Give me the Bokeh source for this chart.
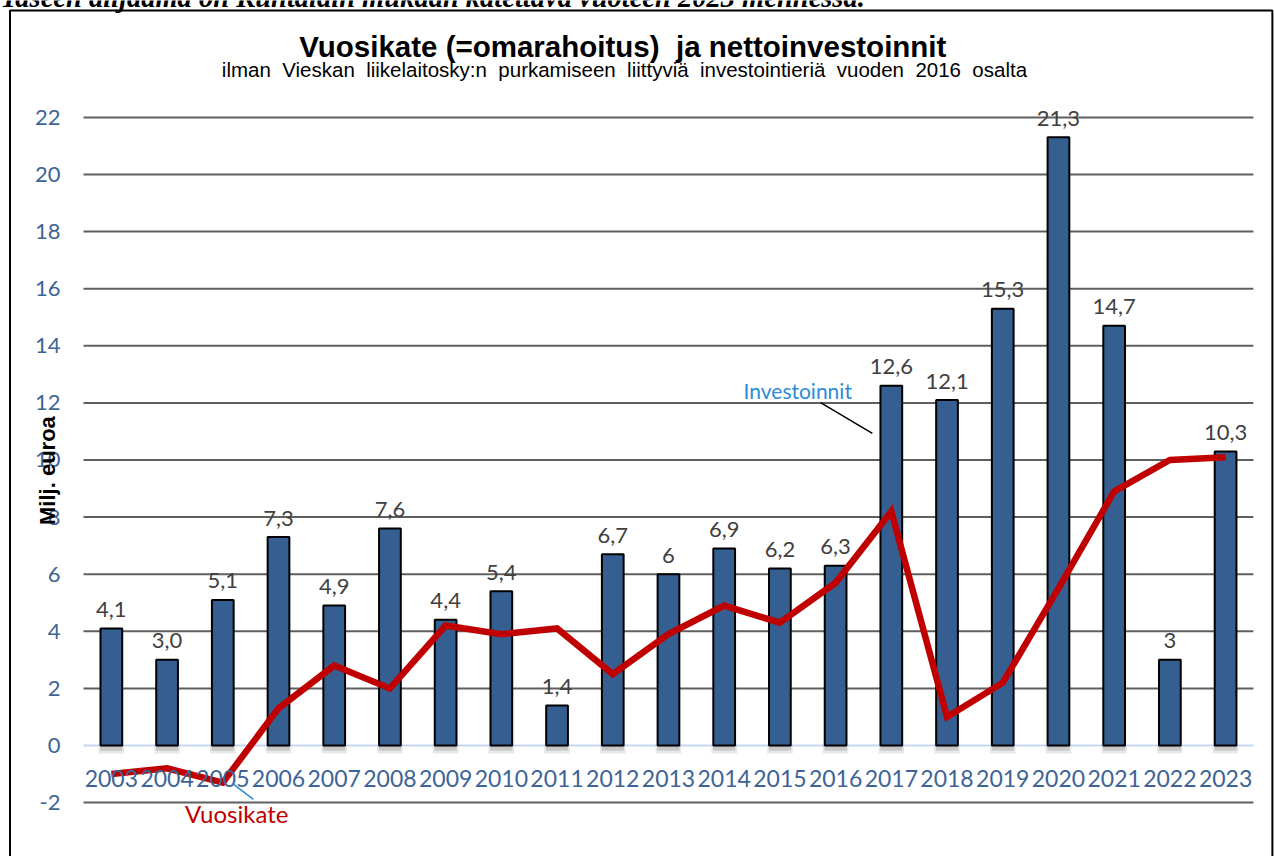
from bokeh.plotting import figure
from bokeh.models import Range1d, ColumnDataSource
from bokeh.core.properties import value
from bokeh.embed import file_html
from bokeh.resources import INLINE

years = ["2003", "2004", "2005", "2006", "2007", "2008", "2009", "2010", "2011", "2012",
         "2013", "2014", "2015", "2016", "2017", "2018", "2019", "2020", "2021", "2022", "2023"]
investoinnit = [4.1, 3.0, 5.1, 7.3, 4.9, 7.6, 4.4, 5.4, 1.4, 6.7, 6.0, 6.9, 6.2, 6.3,
                12.6, 12.1, 15.3, 21.3, 14.7, 3.0, 10.3]
inv_labels = ["4,1", "3,0", "5,1", "7,3", "4,9", "7,6", "4,4", "5,4", "1,4", "6,7", "6",
              "6,9", "6,2", "6,3", "12,6", "12,1", "15,3", "21,3", "14,7", "3", "10,3"]
vuosikate = [-1.0, -0.8, -1.3, 1.3, 2.8, 2.0, 4.2, 3.9, 4.1, 2.5, 3.9, 4.9, 4.3, 5.7,
             8.2, 1.0, 2.2, 5.5, 8.9, 10.0, 10.1]
y_ticks = [-2, 0, 2, 4, 6, 8, 10, 12, 14, 16, 18, 20, 22]
grid_ticks = [-2, 2, 4, 6, 8, 10, 12, 14, 16, 18, 20, 22]
y_tick_labels = [str(t) for t in y_ticks]

SP = " \u00a0"  # wide word gap as in the source
title_text = "Vuosikate (=omarahoitus)" + SP + "ja nettoinvestoinnit"
subtitle_text = SP.join(["ilman", "Vieskan", "liikelaitosky:n", "purkamiseen", "liittyviä",
                         "investointieriä", "vuoden", "2016", "osalta"])
top_text = "Taseen alijäämä on Kuntalain mukaan katettava vuoteen 2023 mennessä."
y_title = "Milj. euroa"

n = len(years)
idx = list(range(n))
src = ColumnDataSource(dict(x=idx, year=years, inv=investoinnit, lab=inv_labels,
                            vk=vuosikate, zero=[0] * n))
tick_src = ColumnDataSource(dict(y=y_ticks, lab=y_tick_labels, x=[-0.5] * len(y_ticks)))
grid_src = ColumnDataSource(dict(y=grid_ticks, x0=[-0.5] * len(grid_ticks),
                                 x1=[n - 0.5] * len(grid_ticks)))

# one category = 55.71 px, one y unit = 28.55 px; frame covers whole canvas
p = figure(width=1274, height=856, x_range=Range1d(-1.99, 20.878), y_range=Range1d(-3.888, 26.094),
           output_backend="svg", toolbar_location=None, x_axis_location=None,
           y_axis_location=None, min_border=0)
p.outline_line_color = None
p.background_fill_color = "white"
p.border_fill_color = "white"
p.grid.visible = False

# gridlines
p.segment(x0="x0", y0="y", x1="x1", y1="y", source=grid_src, line_color="#5f5f5f", line_width=2)
# zero line
p.segment(x0=-0.5, y0=0, x1=n - 0.5, y1=0, line_color="#c6d9f1", line_width=2)

# y tick labels
p.text(x="x", y="y", text="lab", source=tick_src, text_font=value("Lato"),
       text_font_size="22px", text_color="#3d6496", text_align="right",
       text_baseline="middle", x_offset=-23)

# bar shadows
p.vbar(x="x", top="zero", bottom=-0.28, width=0.46, source=src, fill_color="#7f7f7f",
       fill_alpha=0.18, line_color=None)
p.vbar(x="x", top="zero", bottom=-0.18, width=0.40, source=src, fill_color="#7f7f7f",
       fill_alpha=0.3, line_color=None)

# bars
p.vbar(x="x", top="inv", width=0.39, source=src, fill_color="#365f91",
       line_color="black", line_width=2)

# line
p.line(x="x", y="vk", source=src, line_color="#c00000", line_width=6.5, line_join="miter")

# bar labels
p.text(x="x", y="inv", text="lab", source=src, text_font=value("Lato"),
       text_font_size="22px", text_color="#404040", text_align="center",
       text_baseline="middle", y_offset=-19)

# year labels
p.text(x="x", y="zero", text="year", source=src, text_font=value("Lato"),
       text_font_size="23px", text_color="#3d6496", text_align="center",
       text_baseline="middle", y_offset=33)

# annotations
p.text(x=[12.32], y=[12.42], text=["Investoinnit"], text_font=value("Lato"),
       text_font_size="21px", text_color="#2e8ad8", text_align="center", text_baseline="middle")
p.segment(x0=12.73, y0=12.01, x1=13.66, y1=10.93, line_color="black", line_width=1.5)
p.text(x=[2.25], y=[-2.38], text=["Vuosikate"], text_font=value("Lato"),
       text_font_size="24px", text_color="#c00000", text_align="center", text_baseline="middle")
p.segment(x0=2.17, y0=-1.33, x1=2.55, y1=-1.89, line_color="#2e8ad8", line_width=1.5)

# axis title
p.text(x=[-1.15], y=[9.63], text=[y_title], angle=1.5708,
       text_font=value("Liberation Sans"), text_font_style="bold", text_font_size="22px",
       text_color="black", text_align="center", text_baseline="middle")

# titles
p.text(x=[9.18], y=[24.5], text=[title_text], text_font=value("Liberation Sans"),
       text_font_style="bold", text_font_size="29.5px", text_color="black",
       text_align="center", text_baseline="alphabetic")
p.text(x=[9.21], y=[23.68], text=[subtitle_text], text_font=value("Liberation Sans"),
       text_font_size="20.5px", text_color="black",
       text_align="center", text_baseline="alphabetic")

# page text above the chart box (cut by the top edge, as in the source)
p.text(x=[-1.99], y=[26.2], text=[top_text], text_font=value("Liberation Serif"),
       text_font_style="bold italic", text_font_size="28.5px", text_color="black",
       text_align="left", text_baseline="alphabetic")

# chart box
p.quad(left=[-1.82], right=[20.84], top=[25.74], bottom=[-5.0], fill_color=None,
       line_color="black", line_width=2)

open("out.html", "w").write(file_html(p, INLINE))
